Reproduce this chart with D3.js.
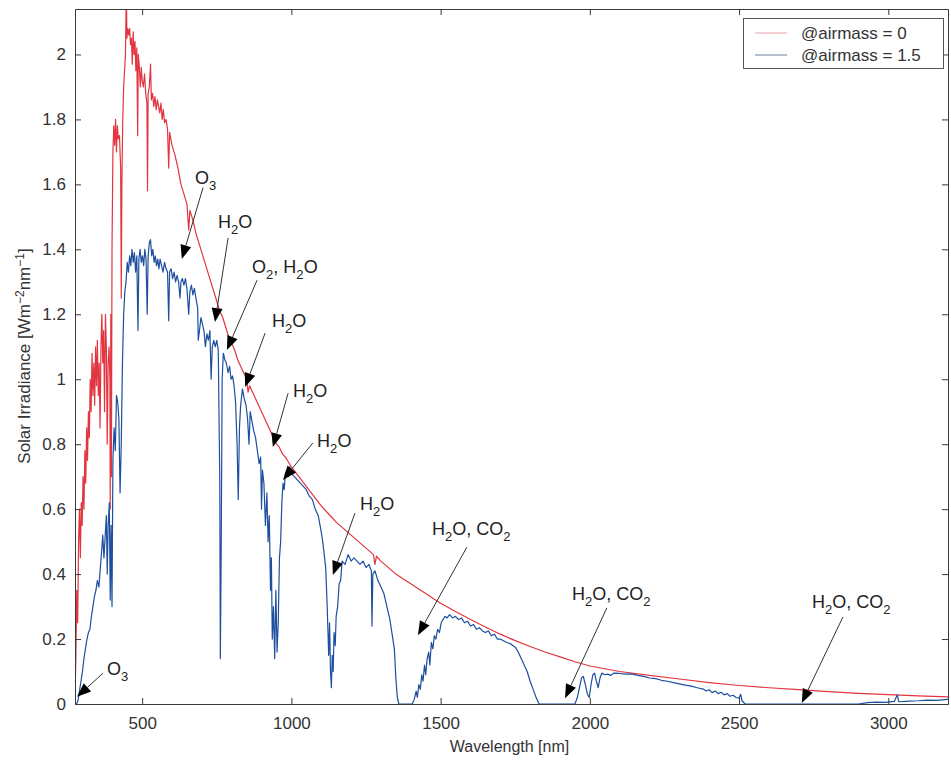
<!DOCTYPE html>
<html>
<head>
<meta charset="utf-8">
<script src="https://cdn.jsdelivr.net/npm/d3@7"></script>
<style>
  body { margin: 0; background: #fff; }
  svg { display: block; font-family: "Liberation Sans", Arial, Helvetica, sans-serif; }
</style>
</head>
<body>
<svg id="chart" width="951" height="762"></svg>
<script>
"use strict";

// spectrum outside the atmosphere, [wavelength nm, W m-2 nm-1]
const airmass0 = [
  [275,0.02],[278,0.15],[281,0.35],[284,0.25],[287,0.5],[290,0.6],[293,0.45],[296,0.62],[299,0.55],
  [302,0.7],[305,0.6],[308,0.78],[311,0.68],[314,0.85],[317,0.75],[320,0.9],[323,0.82],[326,1.0],
  [329,0.9],[332,1.08],[335,0.95],[338,1.05],[341,0.92],[344,1.1],[347,0.98],[350,1.12],[353,0.95],
  [356,1.05],[359,0.85],[362,1.1],[365,1.2],[368,1.05],[371,1.15],[374,0.9],[377,1.2],[380,1.1],
  [383,0.8],[386,1.05],[389,1.1],[392,1.0],[393,0.6],[395,1.2],[397,0.7],[399,1.4],[402,1.7],
  [405,1.78],[408,1.72],[411,1.8],[414,1.7],[417,1.78],[420,1.74],[424,1.75],[428,1.65],[430,1.25],
  [432,1.6],[435,1.8],[438,1.9],[441,1.95],[444,2.0],[447,2.2],[449,2.05],[452,2.08],[455,2.06],
  [458,2.08],[461,2.03],[464,2.05],[467,1.97],[470,2.07],[473,2.0],[476,2.04],[479,1.95],[482,2.02],
  [485,1.75],[487,2.0],[490,1.97],[494,1.9],[497,1.96],[500,1.92],[504,1.9],[508,1.94],[512,1.88],
  [516,1.85],[518,1.58],[520,1.88],[524,1.9],[528,1.97],[531,1.86],[535,1.88],[539,1.84],[543,1.87],
  [547,1.83],[551,1.86],[555,1.84],[559,1.82],[563,1.85],[567,1.8],[571,1.83],[575,1.79],[580,1.8],
  [585,1.77],[589,1.65],[592,1.76],[596,1.74],[600,1.72],[610,1.69],[620,1.65],[630,1.6],[640,1.57],
  [650,1.54],[656,1.46],[660,1.52],[670,1.49],[680,1.45],[690,1.42],[700,1.39],[710,1.36],[720,1.33],
  [730,1.3],[740,1.27],[750,1.24],[760,1.21],[770,1.19],[780,1.16],[790,1.13],[800,1.11],[810,1.09],
  [820,1.06],[830,1.04],[840,1.02],[850,1.0],[855,0.96],[860,0.98],[870,0.96],[880,0.94],[890,0.92],
  [900,0.9],[910,0.88],[920,0.86],[930,0.84],[940,0.82],[950,0.8],[960,0.79],[970,0.77],[980,0.76],
  [990,0.745],[1000,0.73],[1025,0.7],[1050,0.67],[1075,0.64],[1100,0.61],[1125,0.585],[1150,0.56],
  [1175,0.54],[1200,0.52],[1225,0.5],[1250,0.48],[1275,0.46],[1280,0.43],[1285,0.455],[1300,0.44],
  [1325,0.42],[1350,0.4],[1375,0.385],[1400,0.37],[1425,0.355],[1450,0.34],[1475,0.325],[1500,0.31],
  [1550,0.285],[1600,0.26],[1650,0.237],[1700,0.215],[1750,0.195],[1800,0.177],[1850,0.16],
  [1900,0.145],[1950,0.13],[2000,0.117],[2100,0.1],[2200,0.088],[2300,0.077],[2400,0.066],
  [2500,0.057],[2600,0.05],[2700,0.044],[2800,0.038],[2900,0.033],[3000,0.029],[3100,0.025],[3200,0.022]
];

// spectrum at the ground, airmass 1.5
const airmass15 = [
  [280,0],[285,0.01],[290,0.04],[295,0.07],[300,0.1],[305,0.14],[310,0.17],[315,0.2],[320,0.22],
  [325,0.23],[330,0.27],[335,0.3],[340,0.33],[345,0.35],[350,0.38],[355,0.36],[360,0.42],[365,0.48],
  [368,0.52],[372,0.45],[375,0.5],[380,0.58],[383,0.4],[386,0.55],[390,0.62],[393,0.32],[396,0.55],
  [399,0.3],[402,0.75],[406,0.85],[410,0.78],[414,0.95],[418,0.93],[422,0.88],[426,0.65],[430,0.8],
  [434,1.05],[438,1.2],[442,1.27],[446,1.3],[450,1.36],[454,1.33],[458,1.38],[462,1.35],[466,1.4],
  [470,1.36],[474,1.39],[478,1.33],[482,1.38],[486,1.15],[489,1.37],[493,1.4],[497,1.36],[501,1.38],
  [505,1.35],[509,1.4],[513,1.37],[517,1.2],[520,1.38],[524,1.42],[528,1.43],[532,1.38],[536,1.4],
  [540,1.36],[544,1.38],[548,1.35],[552,1.37],[556,1.34],[560,1.37],[565,1.35],[570,1.33],[575,1.36],
  [580,1.34],[585,1.33],[589,1.18],[592,1.33],[597,1.34],[602,1.31],[607,1.33],[612,1.3],[617,1.32],
  [622,1.3],[627,1.25],[630,1.3],[635,1.31],[640,1.29],[645,1.31],[650,1.28],[656,1.2],[660,1.27],
  [665,1.29],[670,1.26],[675,1.28],[680,1.25],[686,1.22],[688,1.12],[692,1.15],[697,1.19],[702,1.17],
  [707,1.15],[712,1.1],[717,1.14],[722,1.12],[727,1.15],[731,1.0],[735,1.1],[740,1.12],[745,1.1],
  [750,1.12],[755,1.09],[760,0.7],[762,0.14],[765,0.5],[768,1.0],[772,1.08],[777,1.06],[782,1.05],
  [788,1.02],[793,1.04],[798,1.0],[803,1.01],[808,0.98],[813,0.93],[818,0.8],[822,0.63],[826,0.85],
  [830,0.92],[836,0.97],[842,0.94],[848,0.92],[853,0.88],[858,0.8],[862,0.9],[868,0.87],[874,0.84],
  [880,0.82],[886,0.78],[892,0.74],[897,0.76],[900,0.6],[903,0.72],[908,0.68],[913,0.55],[918,0.65],
  [922,0.5],[926,0.58],[930,0.35],[933,0.45],[936,0.2],[940,0.3],[944,0.14],[948,0.35],[952,0.16],
  [956,0.25],[960,0.45],[964,0.5],[968,0.62],[972,0.68],[976,0.66],[980,0.71],[985,0.72],[990,0.7],
  [995,0.73],[1000,0.71],[1010,0.7],[1020,0.69],[1030,0.68],[1040,0.67],[1050,0.66],[1060,0.64],
  [1070,0.63],[1080,0.6],[1090,0.58],[1100,0.53],[1105,0.5],[1110,0.46],[1115,0.42],[1120,0.3],
  [1125,0.15],[1128,0.25],[1131,0.1],[1134,0.05],[1137,0.15],[1140,0.1],[1143,0.22],[1147,0.18],
  [1150,0.27],[1155,0.3],[1160,0.37],[1165,0.38],[1170,0.44],[1180,0.43],[1190,0.46],[1200,0.44],
  [1210,0.45],[1220,0.44],[1230,0.43],[1240,0.44],[1250,0.42],[1260,0.43],[1268,0.41],[1270,0.24],
  [1273,0.4],[1280,0.41],[1290,0.38],[1300,0.36],[1310,0.34],[1320,0.3],[1330,0.26],[1340,0.2],
  [1345,0.17],[1350,0.08],[1355,0.02],[1360,0],[1405,0],[1412,0.015],[1418,0.04],[1422,0.02],
  [1427,0.06],[1432,0.045],[1437,0.09],[1441,0.07],[1446,0.12],[1450,0.09],[1455,0.14],[1460,0.16],
  [1464,0.12],[1469,0.19],[1474,0.17],[1479,0.21],[1484,0.2],[1490,0.23],[1496,0.22],[1502,0.25],
  [1508,0.26],[1515,0.27],[1522,0.265],[1530,0.275],[1540,0.265],[1550,0.27],[1560,0.26],[1570,0.265],
  [1580,0.25],[1590,0.255],[1600,0.24],[1610,0.245],[1620,0.23],[1630,0.235],[1640,0.225],[1650,0.22],
  [1660,0.225],[1670,0.21],[1680,0.215],[1690,0.2],[1700,0.2],[1710,0.195],[1720,0.19],[1735,0.185],
  [1750,0.175],[1760,0.16],[1770,0.14],[1780,0.12],[1790,0.1],[1800,0.07],[1810,0.045],[1820,0.02],
  [1830,0],[1950,0],[1958,0.02],[1965,0.05],[1972,0.08],[1978,0.085],[1985,0.06],[1992,0.03],
  [1998,0.02],[2004,0.06],[2010,0.09],[2016,0.095],[2022,0.07],[2028,0.05],[2034,0.08],[2040,0.095],
  [2050,0.09],[2060,0.092],[2070,0.088],[2080,0.095],[2100,0.094],[2120,0.092],[2140,0.093],
  [2160,0.088],[2180,0.085],[2200,0.08],[2220,0.078],[2240,0.073],[2260,0.07],[2280,0.066],
  [2300,0.062],[2320,0.058],[2340,0.055],[2360,0.05],[2380,0.046],[2390,0.04],[2400,0.044],
  [2410,0.035],[2420,0.04],[2430,0.032],[2440,0.036],[2450,0.028],[2460,0.032],[2470,0.024],
  [2480,0.027],[2490,0.02],[2500,0.018],[2505,0.03],[2510,0.01],[2520,0],[2900,0],[2930,0.004],
  [2960,0.006],[2990,0.005],[3020,0.008],[3030,0.028],[3035,0.007],[3070,0.009],[3100,0.01],
  [3130,0.012],[3160,0.011],[3200,0.014]
];

const xTicks = [500, 1000, 1500, 2000, 2500, 3000];
const yTicks = [0, 0.2, 0.4, 0.6, 0.8, 1, 1.2, 1.4, 1.6, 1.8, 2];
const seriesNames = ["@airmass = 0", "@airmass = 1.5"];

// absorption labels: [main, sub] pieces, label anchor, arrow tail and arrow tip (data units)
const absorbers = [
  { parts: [["O", "3"]],             label: [677, 1.60],  tail: [704, 1.59],   tip: [633, 1.37] },
  { parts: [["H", "2"], ["O", ""]],  label: [754, 1.466], tail: [788, 1.435],  tip: [744, 1.176] },
  { parts: [["O", "2"], [", H", "2"], ["O", ""]], label: [868, 1.327], tail: [885, 1.305], tip: [784, 1.09] },
  { parts: [["H", "2"], ["O", ""]],  label: [935, 1.161], tail: [912, 1.142],  tip: [845, 0.976] },
  { parts: [["H", "2"], ["O", ""]],  label: [1005, 0.945], tail: [989, 0.957], tip: [938, 0.791] },
  { parts: [["H", "2"], ["O", ""]],  label: [1086, 0.791], tail: [1072, 0.804], tip: [972, 0.69] },
  { parts: [["H", "2"], ["O", ""]],  label: [1230, 0.597], tail: [1213, 0.588], tip: [1139, 0.397] },
  { parts: [["H", "2"], ["O, CO", "2"]], label: [1471, 0.52], tail: [1588, 0.483], tip: [1424, 0.212] },
  { parts: [["H", "2"], ["O, CO", "2"]], label: [1940, 0.32], tail: [2057, 0.296], tip: [1917, 0.018] },
  { parts: [["H", "2"], ["O, CO", "2"]], label: [2744, 0.296], tail: [2848, 0.268], tip: [2710, 0.003] },
  { parts: [["O", "3"]],             label: [382, 0.089], tail: [369, 0.095],  tip: [282, 0.022] }
];

const svg = d3.select("#chart");
const plotLeft = 75, plotRight = 948, plotTop = 9, plotBottom = 704;
const axisColor = "#3a3a3a";

const x = d3.scaleLinear().domain([275, 3200]).range([plotLeft, plotRight]);
const y = d3.scaleLinear().domain([0, 2.14]).range([plotBottom, plotTop]);

svg.append("defs").append("clipPath").attr("id", "plotclip")
  .append("rect").attr("x", plotLeft).attr("y", plotTop)
  .attr("width", plotRight - plotLeft).attr("height", plotBottom - plotTop);

const plot = svg.append("g").attr("clip-path", "url(#plotclip)");

const line = d3.line().x(d => x(d[0])).y(d => y(d[1]));

plot.append("path").datum(airmass0)
  .attr("fill", "none").attr("stroke", "#e2353f").attr("stroke-width", 1.2)
  .attr("stroke-linejoin", "round").attr("d", line);

plot.append("path").datum(airmass15)
  .attr("fill", "none").attr("stroke", "#1d4f9e").attr("stroke-width", 1.2)
  .attr("stroke-linejoin", "round").attr("d", line);

// axes: bottom/left with labels, top/right ticks only (inward, like matlab)
const fmt = d => String(+d.toFixed(1));
const styleAxis = g => {
  g.select(".domain").attr("stroke", axisColor);
  g.selectAll(".tick line").attr("stroke", axisColor);
  g.selectAll(".tick text").attr("fill", "#333").attr("font-size", 17)
    .attr("font-family", "Liberation Sans, Arial, sans-serif");
};

svg.append("g").attr("transform", `translate(0,${plotBottom})`)
  .call(d3.axisBottom(x).tickValues(xTicks).tickFormat(d3.format("d"))
    .tickSize(-6).tickPadding(13).tickSizeOuter(0))
  .call(styleAxis);
svg.append("g").attr("transform", `translate(${plotLeft},0)`)
  .call(d3.axisLeft(y).tickValues(yTicks).tickFormat(fmt).tickSize(-6).tickPadding(9).tickSizeOuter(0))
  .call(styleAxis);
svg.append("g").attr("transform", `translate(0,${plotTop})`)
  .call(d3.axisTop(x).tickValues(xTicks).tickFormat("").tickSize(-6).tickSizeOuter(0))
  .call(styleAxis);
svg.append("g").attr("transform", `translate(${plotRight},0)`)
  .call(d3.axisRight(y).tickValues(yTicks).tickFormat("").tickSize(-6).tickSizeOuter(0))
  .call(styleAxis);

// axis titles
svg.append("text").attr("x", (plotLeft + plotRight) / 2 - 2).attr("y", 752)
  .attr("text-anchor", "middle").attr("font-size", 16).attr("fill", "#333")
  .text("Wavelength [nm]");

const yTitle = svg.append("text")
  .attr("transform", "translate(30,356) rotate(-90)")
  .attr("text-anchor", "middle").attr("font-size", 17).attr("fill", "#333");
yTitle.append("tspan").text("Solar Irradiance [Wm");
yTitle.append("tspan").attr("dy", -6).attr("font-size", 12).text("\u22122");
yTitle.append("tspan").attr("dy", 6).text("nm");
yTitle.append("tspan").attr("dy", -6).attr("font-size", 12).text("\u22121");
yTitle.append("tspan").attr("dy", 6).text("]");

// annotations with arrows
const notes = svg.append("g");
absorbers.forEach(a => {
  const [x1, y1] = [x(a.tail[0]), y(a.tail[1])];
  const [x2, y2] = [x(a.tip[0]), y(a.tip[1])];
  const ang = Math.atan2(y2 - y1, x2 - x1);
  const len = 14, half = 5.5;
  const bx = x2 - len * Math.cos(ang), by = y2 - len * Math.sin(ang);
  notes.append("line")
    .attr("x1", x1).attr("y1", y1).attr("x2", bx).attr("y2", by)
    .attr("stroke", "#333").attr("stroke-width", 1);
  const px = -Math.sin(ang) * half, py = Math.cos(ang) * half;
  notes.append("path")
    .attr("d", `M${x2},${y2}L${bx + px},${by + py}L${bx - px},${by - py}Z`)
    .attr("fill", "#000");

  const t = notes.append("text")
    .attr("x", x(a.label[0])).attr("y", y(a.label[1]))
    .attr("font-size", 18).attr("fill", "#222");
  a.parts.forEach(([main, sub]) => {
    if (main) t.append("tspan").text(main);
    if (sub) {
      t.append("tspan").attr("dy", 6).attr("font-size", 13).text(sub);
      t.append("tspan").attr("dy", -6).attr("font-size", 1).text("\u200a");
    }
  });
});

// legend
const legend = svg.append("g");
legend.append("rect").attr("x", 743.5).attr("y", 18.5).attr("width", 200).attr("height", 50)
  .attr("fill", "#fff").attr("stroke", "#555").attr("stroke-width", 1);
const legendColors = ["#e8a0a8", "#6f7f99"];
seriesNames.forEach((name, i) => {
  const ly = 33 + i * 22;
  legend.append("line").attr("x1", 755).attr("x2", 787).attr("y1", ly).attr("y2", ly)
    .attr("stroke", legendColors[i]).attr("stroke-width", 1);
  legend.append("text").attr("x", 801).attr("y", ly + 6)
    .attr("font-size", 17).attr("fill", "#333").text(name);
});
</script>
</body>
</html>
